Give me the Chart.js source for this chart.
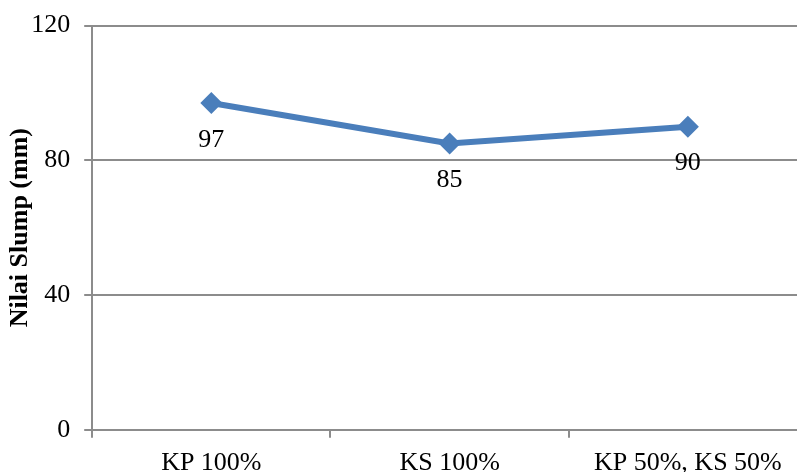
<!DOCTYPE html>
<html>
<head>
<meta charset="utf-8">
<script src="https://cdn.jsdelivr.net/npm/chart.js@4/dist/chart.umd.min.js"></script>
<style>
  html, body { margin: 0; padding: 0; background: #fff; overflow: hidden; }
  #wrap { width: 818px; height: 476px; margin-top: -4px; position: relative; }
</style>
</head>
<body>
<div id="wrap"><canvas id="slump-chart"></canvas></div>
<script>
// chart data
const categories = ['KP 100%', 'KS 100%', 'KP 50%, KS 50%'];
const slumpValues = [97, 85, 90];
const yTicks = [0, 40, 80, 120];

const serif = '"Liberation Serif", "Times New Roman", serif';
const gridGray = '#8c8c8c';

// draws the value under each diamond
const valueLabels = {
    id: 'valueLabels',
    afterDatasetsDraw(chart) {
        const ctx = chart.ctx;
        const meta = chart.getDatasetMeta(0);
        ctx.save();
        ctx.font = '26px ' + serif;
        ctx.fillStyle = '#000';
        ctx.textAlign = 'center';
        ctx.textBaseline = 'middle';
        meta.data.forEach((pt, i) => {
            ctx.fillText(String(slumpValues[i]), pt.x, pt.y + 37);
        });
        ctx.restore();
    }
};

const ctx = document.getElementById('slump-chart').getContext('2d');
new Chart(ctx, {
    type: 'line',
    data: {
        labels: categories,
        datasets: [{
            data: slumpValues,
            borderColor: '#4a7ebb',
            backgroundColor: '#4a7ebb',
            borderWidth: 6,
            pointStyle: 'rectRot',
            pointRadius: 11,
            pointHoverRadius: 11,
            pointBorderWidth: 0,
            tension: 0
        }]
    },
    options: {
        responsive: true,
        maintainAspectRatio: false,
        animation: false,
        layout: { padding: { top: 8, left: 2, right: 0, bottom: -17 } },
        plugins: { legend: { display: false }, tooltip: { enabled: false } },
        scales: {
            x: {
                offset: true,
                grid: {
                    offset: true,
                    drawOnChartArea: false,
                    drawTicks: true,
                    tickLength: 8,
                    color: gridGray,
                    lineWidth: 2
                },
                border: { color: gridGray, width: 2 },
                ticks: { color: '#000', font: { family: serif, size: 26 }, padding: 10, maxRotation: 0 }
            },
            y: {
                min: 0,
                max: 120,
                afterBuildTicks(axis) { axis.ticks = yTicks.map(v => ({ value: v })); },
                grid: { color: gridGray, lineWidth: 2, tickLength: 8 },
                border: { color: gridGray, width: 2 },
                ticks: { color: '#000', font: { family: serif, size: 26 }, padding: 14 },
                title: {
                    display: true,
                    text: 'Nilai Slump (mm)',
                    color: '#000',
                    font: { family: serif, size: 26, weight: 'bold' },
                    padding: { top: 3, bottom: -19 }
                }
            }
        }
    },
    plugins: [valueLabels]
});
</script>
</body>
</html>
